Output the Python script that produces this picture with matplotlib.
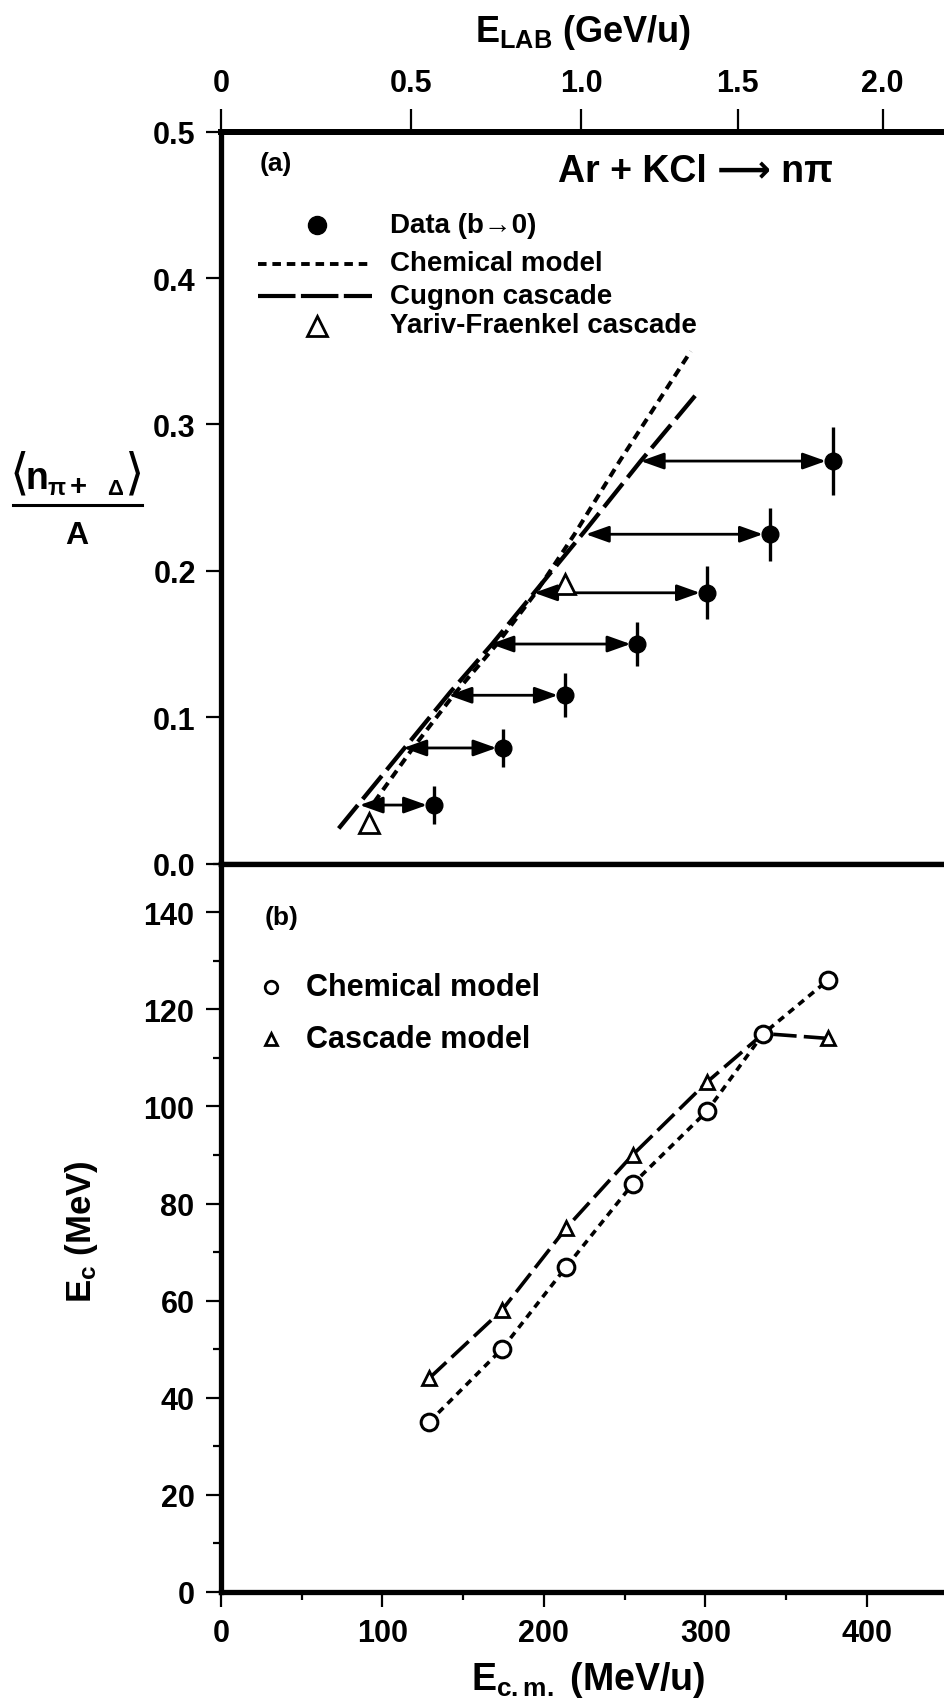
import numpy as np
import matplotlib
matplotlib.use('Agg')
import matplotlib.pyplot as plt
from matplotlib.lines import Line2D
from matplotlib.ticker import MultipleLocator, FuncFormatter

# ---------------- data : panel (a) ----------------
ecm_data = [132, 175, 213, 258, 301, 340, 379]          # E_cm (MeV/u) of data points
mult_data = [0.040, 0.079, 0.115, 0.150, 0.185, 0.225, 0.275]
mult_err = [0.013, 0.013, 0.015, 0.015, 0.018, 0.018, 0.023]
arrow_left_ecm = [86, 113, 141, 167, 194, 226, 260]     # left end of the arrows

chem_line_ecm = [95, 119, 144, 171, 195, 219, 247, 291]
chem_line_mult = [0.042, 0.079, 0.115, 0.150, 0.185, 0.225, 0.275, 0.350]

cugnon_ecm = [73, 142, 168, 194, 226, 260, 294]
cugnon_mult = [0.024, 0.117, 0.150, 0.185, 0.228, 0.275, 0.320]

yariv_ecm = [92, 213]
yariv_mult = [0.028, 0.191]

# ---------------- data : panel (b) ----------------
ecm_b = [129, 174, 214, 255, 301, 336, 376]
ec_chemical = [35, 50, 67, 84, 99, 115, 126]
ec_cascade = [44, 58, 75, 90, 105, 115, 114]

# ---------------- tick labels ----------------
elab_ticks = [0, 0.5, 1.0, 1.5, 2.0]
elab_labels = ['0', '0.5', '1.0', '1.5', '2.0']
ya_ticks = [0.0, 0.1, 0.2, 0.3, 0.4, 0.5]
ya_labels = ['0.0', '0.1', '0.2', '0.3', '0.4', '0.5']

# ---------------- style ----------------
plt.rcParams['font.family'] = ['Liberation Sans', 'DejaVu Sans']
plt.rcParams['font.weight'] = 'bold'
plt.rcParams['mathtext.fontset'] = 'custom'
plt.rcParams['mathtext.rm'] = 'Liberation Sans:bold'
plt.rcParams['mathtext.it'] = 'Liberation Sans:bold'
plt.rcParams['mathtext.bf'] = 'Liberation Sans:bold'
plt.rcParams['mathtext.sf'] = 'Liberation Sans:bold'

W, H = 945, 1706
def fx(p):
    return p / W
def fy(p):
    return 1 - p / H

fig = plt.figure(figsize=(W / 100, H / 100), dpi=100)
fig.patch.set_facecolor('white')

X0 = 220.8
PX_PER_MEV = 1.615
XMAX = 450
axw = XMAX * PX_PER_MEV / W

ax_a = fig.add_axes([fx(X0), fy(864.6), axw, (864.6 - 132.7) / H])
ax_b = fig.add_axes([fx(X0), fy(1593), axw, (1593 - 864.6) / H])

SPW = 3.8
TKW = 1.6
for ax in (ax_a, ax_b):
    ax.set_xlim(0, XMAX)
    ax.spines['right'].set_visible(False)
    for s in ('left', 'bottom', 'top'):
        ax.spines[s].set_linewidth(SPW)
ax_a.spines['top'].set_linewidth(4.3)

# ---------- panel (a) ----------
ax_a.set_ylim(0, 0.5)
ax_a.set_yticks(ya_ticks, ya_labels)
ax_a.tick_params(axis='y', direction='out', length=11, width=TKW, pad=7, labelsize=22)
ax_a.tick_params(axis='x', bottom=False, labelbottom=False, top=False)

m = 931.494
def ecm_to_elab(e):
    e = np.asarray(e, dtype=float)
    return ((2 * (e + m)) ** 2 / (2 * m) - 2 * m) / 1000.0
def elab_to_ecm(t):
    t = np.asarray(t, dtype=float) * 1000.0
    return np.sqrt(np.clip(2 * m * (t + 2 * m), 0, None)) / 2 - m

sec = ax_a.secondary_xaxis('top', functions=(ecm_to_elab, elab_to_ecm))
sec.set_xticks(elab_ticks, elab_labels)
sec.tick_params(direction='out', length=16.5, width=TKW, pad=8, labelsize=22)
sec.spines['top'].set_linewidth(4.3)

dotted_a = (0, (2.2, 1.5))
dashed_a = (0, (7.0, 1.8))
ax_a.plot(chem_line_ecm, chem_line_mult, color='black', lw=2.9, linestyle=dotted_a, zorder=3)
ax_a.plot(cugnon_ecm, cugnon_mult, color='black', lw=3.1, linestyle=dashed_a, zorder=3)

for xl, xr, yv in zip(arrow_left_ecm, ecm_data, mult_data):
    ax_a.annotate('', xy=(xl, yv), xytext=(xr, yv),
                  arrowprops=dict(arrowstyle='<|-|>,head_length=1.4,head_width=0.5',
                                  lw=2.0, color='black', shrinkA=5, shrinkB=0,
                                  mutation_scale=10), zorder=4)

ax_a.errorbar(ecm_data, mult_data, yerr=mult_err, fmt='o', color='black',
              ms=12, elinewidth=2.4, capsize=0, zorder=5)
ax_a.plot(yariv_ecm, yariv_mult, linestyle='none', marker='^', ms=15,
          mfc='white', mec='black', mew=2.0, zorder=6)

# legend (a)
fig.add_artist(Line2D([fx(316.7)], [fy(226)], marker='o', ms=13, color='black', linestyle='none'))
fig.text(fx(390), fy(226), 'Data (b\u21920)', fontsize=20, ha='left', va='center')
fig.add_artist(Line2D([fx(258), fx(373)], [fy(265), fy(265)], color='black', lw=2.8, linestyle=dotted_a))
fig.text(fx(390), fy(264), 'Chemical model', fontsize=20, ha='left', va='center')
fig.add_artist(Line2D([fx(258), fx(372)], [fy(297), fy(297)], color='black', lw=3.0, linestyle=(0, (9, 1.3))))
fig.text(fx(390), fy(297), 'Cugnon cascade', fontsize=20, ha='left', va='center')
fig.add_artist(Line2D([fx(316.7)], [fy(327)], marker='^', ms=14, mfc='white', mec='black', mew=2.0, linestyle='none'))
fig.text(fx(390), fy(326), 'Yariv-Fraenkel cascade', fontsize=20, ha='left', va='center')

fig.text(fx(260), fy(164), '(a)', fontsize=19, ha='left', va='center')
fig.text(fx(558), fy(172), 'Ar + KCl \u27f6 n\u03c0', fontsize=27, ha='left', va='center')

# ---------- panel (b) ----------
ax_b.set_ylim(0, 150)
ax_b.xaxis.set_major_locator(MultipleLocator(100))
ax_b.xaxis.set_minor_locator(MultipleLocator(50))
ax_b.yaxis.set_major_locator(MultipleLocator(20))
ax_b.yaxis.set_minor_locator(MultipleLocator(10))
ax_b.tick_params(which='major', direction='out', length=11, width=TKW, pad=8, labelsize=22)
ax_b.tick_params(which='minor', direction='out', length=6, width=TKW)
ax_b.tick_params(axis='x', which='both', top=False)
ax_b.tick_params(axis='y', which='both', right=False)
ax_b.xaxis.set_major_formatter(FuncFormatter(lambda v, p: f'{v:.0f}'))
ax_b.yaxis.set_major_formatter(FuncFormatter(lambda v, p: f'{v:.0f}'))

dotted_b = (0, (2.0, 1.6))
dashed_b = (0, (6.5, 2.0))
ax_b.plot(ecm_b, ec_chemical, color='black', lw=2.6, linestyle=dotted_b,
          marker='o', ms=12, mfc='white', mec='black', mew=2.2, zorder=4)
ax_b.plot(ecm_b, ec_cascade, color='black', lw=2.6, linestyle=dashed_b,
          marker='^', ms=9.5, mfc='white', mec='black', mew=2.0,
          markevery=[0, 1, 2, 3, 4, 6], zorder=3)

# legend (b)
fig.add_artist(Line2D([fx(270.8)], [fy(988)], marker='o', ms=9, mfc='white', mec='black', mew=2.0, linestyle='none'))
fig.text(fx(306), fy(988), 'Chemical model', fontsize=22, ha='left', va='center')
fig.add_artist(Line2D([fx(270.8)], [fy(1040)], marker='^', ms=9, mfc='white', mec='black', mew=2.0, linestyle='none'))
fig.text(fx(306), fy(1040), 'Cascade model', fontsize=22, ha='left', va='center')
fig.text(fx(265), fy(918), '(b)', fontsize=19, ha='left', va='center')

# ---------- axis titles ----------
fig.text(fx(583), fy(33), r'E$_\mathrm{LAB}$ (GeV/u)', fontsize=26, ha='center', va='center')
fig.text(fx(588), fy(1680), r'E$_\mathrm{c.m.}$ (MeV/u)', fontsize=27, ha='center', va='center')
fig.text(fx(82), fy(1232), r'E$_\mathrm{c}$ (MeV)', fontsize=25, rotation=90, ha='center', va='center')

# fraction label of panel (a):  < n_(pi + Delta) > / A
fig.text(fx(19), fy(474), '\u27e8', fontsize=36, family=['DejaVu Sans'], weight='normal',
         ha='center', va='center')
fig.text(fx(26), fy(489), 'n', fontsize=27, ha='left', va='baseline')
fig.text(fx(48), fy(495), '\u03c0', fontsize=17, ha='left', va='baseline')
fig.text(fx(78), fy(487), '+', fontsize=21, ha='center', va='center')
fig.text(fx(107), fy(495), '\u0394', fontsize=16, ha='left', va='baseline')
fig.text(fx(135), fy(474), '\u27e9', fontsize=36, family=['DejaVu Sans'], weight='normal',
         ha='center', va='center')
fig.add_artist(Line2D([fx(13), fx(142)], [fy(506), fy(506)], lw=2.2, color='black'))
fig.text(fx(77), fy(536), 'A', fontsize=23, ha='center', va='center')

fig.savefig('out.png', dpi=100, facecolor='white')
